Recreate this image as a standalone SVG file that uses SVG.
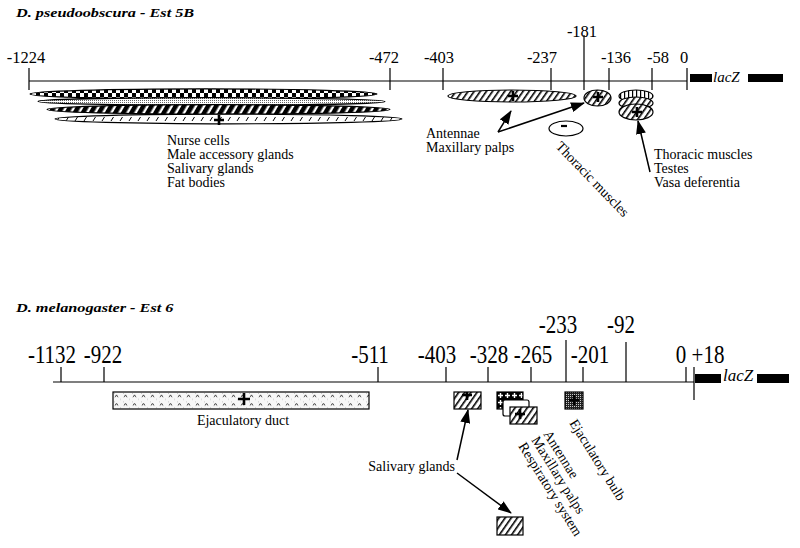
<svg xmlns="http://www.w3.org/2000/svg" width="800" height="548" viewBox="0 0 800 548">
<style>
.t{font-family:"Liberation Serif","Times New Roman",serif;fill:#000}
.n{font-size:16.5px;text-anchor:middle}
.l{font-size:14px}
.title{font-size:13px;font-weight:bold;font-style:italic}
.ax{stroke:#000;stroke-width:1.2;fill:none}
.sh{stroke:#000;stroke-width:1.2}
.plus{stroke:#000;stroke-width:2.6;fill:none}
.con{stroke:#000;stroke-width:1.5;fill:none;marker-end:url(#ah)}
</style>
<defs>
<marker id="ah" markerUnits="userSpaceOnUse" markerWidth="14" markerHeight="10" refX="13" refY="5" orient="auto"><path d="M0,0 L14,5 L0,10 z" fill="#000"/></marker>
<pattern id="checker" patternUnits="userSpaceOnUse" width="8" height="8" y="89"><rect width="8" height="8" fill="#fff"/><rect width="4" height="4" fill="#000"/><rect x="4" y="4" width="4" height="4" fill="#000"/></pattern>
<pattern id="fdots" patternUnits="userSpaceOnUse" width="2" height="2"><rect width="2" height="2" fill="#fff"/><rect width="1" height="1" fill="#666"/></pattern>
<pattern id="thick" patternUnits="userSpaceOnUse" width="7" height="7" patternTransform="rotate(30)"><rect width="7" height="7" fill="#000"/><rect x="4.6" width="2.4" height="7" fill="#fff"/></pattern>
<pattern id="sparse" patternUnits="userSpaceOnUse" width="9" height="8" y="115"><rect width="9" height="8" fill="#fff"/><path d="M3,6 L5.5,2" stroke="#000" stroke-width="1"/></pattern>
<pattern id="hatch" patternUnits="userSpaceOnUse" width="5" height="5" patternTransform="rotate(35)"><rect width="5" height="5" fill="#fff"/><rect width="1.6" height="5" fill="#000"/></pattern>
<pattern id="vstr" patternUnits="userSpaceOnUse" width="4" height="4"><rect width="4" height="4" fill="#fff"/><rect width="1.2" height="4" fill="#000"/></pattern>
<pattern id="caret" patternUnits="userSpaceOnUse" width="9" height="8.5" x="113" y="392"><rect width="9" height="8.5" fill="#f7f7f7"/><path d="M2,5 L3.5,3 L5,5" stroke="#000" stroke-width="0.8" fill="none"/><rect x="7" y="7" width="0.8" height="0.8" fill="#aaa"/><rect x="1" y="1" width="0.8" height="0.8" fill="#aaa"/></pattern>
<pattern id="crossp" patternUnits="userSpaceOnUse" width="7" height="7" x="497" y="392"><rect width="7" height="7" fill="#000"/><path d="M3.5,1 V6 M1,3.5 H6" stroke="#fff" stroke-width="1.4"/></pattern>
<pattern id="bulb" patternUnits="userSpaceOnUse" width="2" height="2"><rect width="2" height="2" fill="#222"/><rect width="1" height="1" fill="#ccc"/></pattern>
</defs>

<!-- Top panel -->
<text class="t title" transform="translate(16,17) scale(1.25,1)">D. pseudoobscura - Est 5B</text>
<g id="axis-top">
<line class="ax" x1="29" y1="81" x2="687" y2="81"/>
<path class="ax" d="M29,68V90 M390,68V90 M443,68V90 M551,68V90 M584,35V90 M609,68V90 M652,68V90 M687,68V90"/>
<text class="t n" x="26" y="63">-1224</text>
<text class="t n" x="384" y="63">-472</text>
<text class="t n" x="439" y="63">-403</text>
<text class="t n" x="542" y="63">-237</text>
<text class="t n" x="582" y="37">-181</text>
<text class="t n" x="616" y="63">-136</text>
<text class="t n" x="658" y="63">-58</text>
<text class="t n" x="684" y="63">0</text>
<rect x="690" y="74" width="22" height="8" fill="#000"/>
<text class="t" x="713" y="82" font-size="15" font-style="italic">lacZ</text>
<rect x="748" y="74" width="35" height="8" fill="#000"/>
</g>

<g id="node-nurse">
<ellipse class="sh" cx="203.5" cy="94" rx="173.5" ry="5.2" fill="url(#checker)"/>
<ellipse class="sh" cx="211.5" cy="101.5" rx="173.5" ry="3.8" fill="url(#fdots)"/>
<ellipse class="sh" cx="218.5" cy="109.5" rx="171.5" ry="4.8" fill="url(#thick)"/>
<ellipse class="sh" cx="228.5" cy="119" rx="173.5" ry="4.8" fill="url(#sparse)"/>
<path class="plus" d="M214,120 H224 M219,115 V125"/>
<text class="t l" x="167" y="145">Nurse cells</text>
<text class="t l" x="167" y="159">Male accessory glands</text>
<text class="t l" x="167" y="173">Salivary glands</text>
<text class="t l" x="167" y="187">Fat bodies</text>
</g>

<g id="node-antennae">
<ellipse class="sh" cx="512" cy="96" rx="64" ry="6" fill="url(#hatch)"/>
<path class="plus" d="M508,96 H518 M513,91 V101"/>
</g>
<g id="label-antennae">
<text class="t l" x="426" y="138">Antennae</text>
<text class="t l" x="426" y="152" font-size="13.5">Maxillary palps</text>
</g>

<g id="node-thoracic-plus">
<ellipse class="sh" cx="597.5" cy="98" rx="13.5" ry="8" fill="url(#hatch)"/>
<path class="plus" d="M593,97 H603 M598,92 V102"/>
</g>
<g id="node-thoracic-minus">
<ellipse class="sh" cx="566" cy="128.5" rx="17" ry="7.5" fill="#fff"/>
<path d="M561,126 H567" stroke="#000" stroke-width="2.2"/>
</g>
<text class="t l" transform="translate(555,147) rotate(46)">Thoracic muscles</text>

<g id="node-testes">
<ellipse class="sh" cx="636" cy="96" rx="17" ry="6" fill="url(#vstr)"/>
<ellipse class="sh" cx="636" cy="103" rx="17" ry="6" fill="url(#hatch)"/>
<ellipse class="sh" cx="636" cy="112" rx="17" ry="8" fill="url(#hatch)"/>
<path class="plus" d="M632,112 H642 M637,107 V117"/>
<text class="t l" x="654" y="159">Thoracic muscles</text>
<text class="t l" x="654" y="173">Testes</text>
<text class="t l" x="654" y="187">Vasa deferentia</text>
</g>

<!-- Bottom panel -->
<text class="t title" transform="translate(16,312) scale(1.25,1)">D. melanogaster - Est 6</text>
<g id="axis-bottom">
<line class="ax" x1="53" y1="382" x2="694" y2="382"/>
<path class="ax" d="M61,367V382 M104,367V382 M378,367V382 M446,367V382 M488,367V382 M531,367V382 M566,340V382 M583,367V382 M626,342V382 M686,367V382 M694,367V400"/>
<g font-size="21" text-anchor="middle" class="t">
<text transform="translate(52,363) scale(1,1.22)">-1132</text>
<text transform="translate(103,363) scale(1,1.22)">-922</text>
<text transform="translate(370,363) scale(1,1.22)">-511</text>
<text transform="translate(437,363) scale(1,1.22)">-403</text>
<text transform="translate(489,363) scale(1,1.22)">-328</text>
<text transform="translate(533,363) scale(1,1.22)">-265</text>
<text transform="translate(558,333) scale(1,1.22)">-233</text>
<text transform="translate(590,363) scale(1,1.22)">-201</text>
<text transform="translate(621,333) scale(1,1.22)">-92</text>
<text transform="translate(681,363) scale(1,1.22)">0</text>
<text transform="translate(708,363) scale(1,1.22)">+18</text>
</g>
<rect x="695" y="374" width="26" height="9" fill="#000"/>
<text class="t" x="723" y="381" font-size="17" font-style="italic">lacZ</text>
<rect x="757" y="374" width="32" height="9" fill="#000"/>
</g>

<g id="node-ejac-duct">
<rect class="sh" x="113" y="392" width="256" height="17" fill="url(#caret)"/>
<path class="plus" d="M238,399 H250 M244,393 V405"/>
<text class="t l" x="243" y="425" text-anchor="middle">Ejaculatory duct</text>
</g>

<g id="node-salivary-1">
<rect class="sh" x="454" y="392" width="27" height="17" fill="url(#hatch)"/>
<path class="plus" d="M462,395 H472 M467,392 V400"/>
</g>
<g id="node-antennae-2">
<rect class="sh" x="497" y="392" width="26" height="17" fill="url(#crossp)"/>
<rect class="sh" x="503" y="400" width="26" height="16" rx="2" fill="#fff"/>
<rect class="sh" x="510" y="407" width="27" height="17" fill="url(#hatch)"/>
<path class="plus" d="M515,414 H525 M520,409 V419"/>
</g>
<text class="t l" transform="translate(543,434) rotate(58)">Antennae</text>
<text class="t l" transform="translate(531,440) rotate(58)">Maxillary palps</text>
<text class="t l" transform="translate(518,446) rotate(58)">Respiratory system</text>

<g id="node-ejac-bulb">
<rect class="sh" x="565" y="392" width="18" height="17" fill="url(#bulb)"/>
<path d="M569,400 H579 M574,395 V405" stroke="#000" stroke-width="2.4"/>
</g>
<text class="t l" transform="translate(569,423) rotate(58)">Ejaculatory bulb</text>

<g id="node-salivary-2">
<rect class="sh" x="497" y="517" width="26" height="18" fill="url(#hatch)"/>
</g>
<text class="t l" x="455" y="471" text-anchor="end">Salivary glands</text>

<g id="connectors">
<line class="con" x1="498" y1="132" x2="511" y2="111"/>
<line class="con" x1="498" y1="132" x2="584" y2="103"/>
<line class="con" x1="650" y1="172" x2="638" y2="121"/>
<line class="con" x1="457" y1="460" x2="468" y2="410"/>
<line class="con" x1="457" y1="473" x2="511" y2="513"/>
</g>
</svg>
